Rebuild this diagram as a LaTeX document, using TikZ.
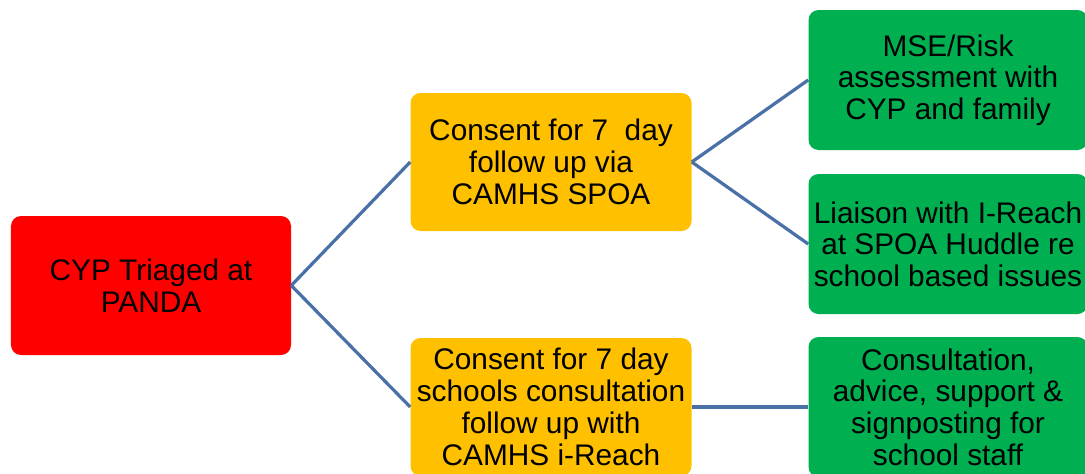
\documentclass[tikz,border=0pt]{standalone}
\usepackage{fontspec}
\setmainfont{Liberation Sans}
\usetikzlibrary{shapes,arrows}
\definecolor{pandared}{HTML}{FF0000}
\definecolor{consentyellow}{HTML}{FFC000}
\definecolor{actiongreen}{HTML}{00B050}
\definecolor{linkblue}{HTML}{4A70A8}
\tikzstyle{link} = [draw, color=linkblue, line width=2.3pt]
\tikzstyle{triage} = [rectangle, rounded corners=0.25cm, fill=pandared, minimum width=7cm, minimum height=3.475cm, align=center, font=\fontsize{21.2}{22.7}\selectfont]
\tikzstyle{consent} = [rectangle, rounded corners=0.25cm, fill=consentyellow, minimum width=7.025cm, minimum height=3.45cm, align=center, node distance=10cm, font=\fontsize{21.2}{22.7}\selectfont]
\tikzstyle{action} = [rectangle, rounded corners=0.25cm, fill=actiongreen, minimum width=6.975cm, minimum height=3.5cm, align=center, node distance=9.925cm, font=\fontsize{21.2}{22.5}\selectfont]

\begin{document}
\begin{tikzpicture}
\useasboundingbox (-3.775,-4.6875) rectangle (23.35,7.1375);

\node [triage] (panda) {CYP Triaged at\\PANDA};

\node [consent, right of=panda, yshift=3.0875cm] (spoa) {Consent for 7\ \ day\\follow up via\\CAMHS SPOA};
\node [consent, right of=panda, yshift=-3.0375cm] (ireach) {Consent for 7 day\\schools consultation\\follow up with\\CAMHS i-Reach};
\path [link] (panda.east) to (spoa.west);
\path [link] (panda.east) to (ireach.west);


\node [action, right of=spoa, yshift=2.05cm] (mse) {MSE/Risk\\assessment with\\CYP and family};
\node [action, right of=spoa, yshift=-2.05cm] (huddle) {Liaison with I-Reach\\at SPOA Huddle re\\school based issues};
\path [link] (spoa.east) to (mse.west);
\path [link] (spoa.east) to (huddle.west);


\node [action, right of=ireach] (staff) {Consultation,\\advice, support \&\\signposting for\\school staff};
\path [link] (ireach.east) to (staff.west);

\end{tikzpicture}
\end{document}
